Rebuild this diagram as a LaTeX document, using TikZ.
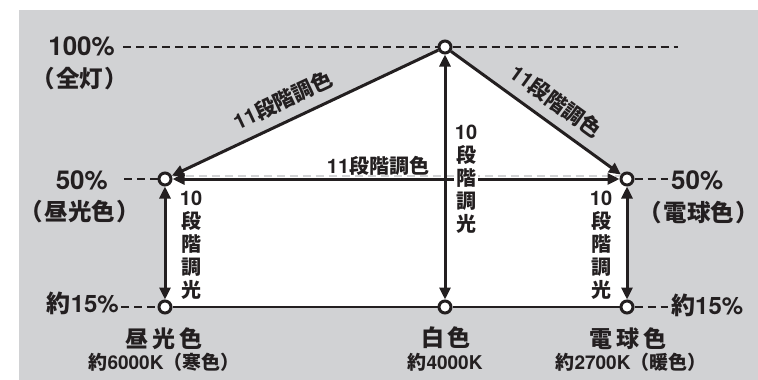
\documentclass[tikz,border=0pt]{standalone}
\usepackage{fontspec}
\setmainfont{TeX Gyre Heros}
\newfontfamily\jp{Noto Sans CJK JP}
\usetikzlibrary{arrows.meta}
\definecolor{bg}{RGB}{209,210,212}
\definecolor{ink}{RGB}{35,31,32}
\newcommand\fs[1]{\fontsize{#1}{#1}\selectfont\bfseries}
\newcommand\paren[1]{（\kern1.5pt #1\kern1.5pt ）}
\begin{document}
\begin{tikzpicture}[x=1pt,y=-1pt,
  Tr/.tip={Triangle[length=12pt,width=11pt]},
  pt/.style={circle,draw=ink,fill=white,line width=3pt,minimum size=12pt,inner sep=0pt},
  arr/.style={draw=ink,line width=3pt},
  dashline/.style={draw=ink,line width=2.7pt,dash pattern=on 8pt off 5pt},
  lbl/.style={text=ink,inner sep=0pt,font=\fs{#1}},
  vtext/.style={text=ink,inner sep=1pt,align=center,font={\fontsize{20}{22.9}\selectfont\bfseries}}
]
\useasboundingbox (0,0) rectangle (758,380);
\fill[white] (0,0) rectangle (758,380);
\fill[bg] (19,10) rectangle (758,380);
\fill[white] (165,179) -- (445,47) -- (627,179) -- (627,307) -- (165,307) -- cycle;

% points
\node[pt] (T) at (445,47) {};
\node[pt] (L) at (165,179) {};
\node[pt] (R) at (627,179) {};
\node[pt] (BL) at (165,307) {};
\node[pt] (BM) at (445,307) {};
\node[pt] (BR) at (627,307) {};

% free ends of dashed guides
\coordinate (d100a) at (123,47);
\coordinate (d100b) at (678,47);
\coordinate (d50a) at (124,179);
\coordinate (d50b) at (668,179);
\coordinate (d15a) at (121,307);
\coordinate (d15b) at (668,307);

\draw[dashline] (d100a) -- (T);
\draw[dashline] (T) -- (d100b);
\draw[dashline] (d50a) -- (L);
\draw[dashline] (R) -- (d50b);
\draw[dashline] (d15a) -- (BL);
\draw[dashline] (BR) -- (d15b);
\draw[draw=bg,line width=2pt,dash pattern=on 8pt off 5pt] ([yshift=3pt]L.east) -- ([yshift=3pt]R.west);

% connectors
\draw[arr,-Tr] (T) -- (L);
\draw[arr,-Tr] (T) -- (R);
\draw[arr,Tr-Tr] (L) -- (R);
\draw[arr,Tr-Tr] (BM) -- (T);
\draw[arr,Tr-Tr] (BL) -- (L);
\draw[arr,Tr-Tr] (BR) -- (R);
\draw[draw=ink,line width=2.7pt] (BL) -- (BM);
\draw[draw=ink,line width=2.7pt] (BM) -- (BR);

% step labels
\node[lbl=21,rotate=25.3] (cL) at (283,100) {11{\jp 段階調色}};
\node[lbl=21,rotate=-35.9] (cR) at (556,101) {11{\jp 段階調色}};
\node[lbl=20] (cH) at (378,166) {11{\jp 段階調色}};
\node[vtext,fill=white] (vM) at (466,179) {10\\{\jp 段}\\{\jp 階}\\{\jp 調}\\{\jp 光}};
\node[vtext] (vL) at (191,245) {10\\{\jp 段}\\{\jp 階}\\{\jp 調}\\{\jp 光}};
\node[vtext] (vR) at (601,245) {10\\{\jp 段}\\{\jp 階}\\{\jp 調}\\{\jp 光}};

% left level labels
\node[lbl=26,anchor=east] (p100) at (115,46) {100\%};
\node[lbl=23.5] (zen) at (80,79) {\jp \paren{全灯}};
\node[lbl=26,anchor=east] (p50L) at (108,180) {50\%};
\node[lbl=23.5] (chuL) at (80,212) {\jp \paren{昼光色}};
\node[lbl=24,anchor=east] (p15L) at (119,303) {{\jp 約}15\%};
% right level labels
\node[lbl=26,anchor=west] (p50R) at (671,180) {50\%};
\node[lbl=23.5] (denR) at (699,213) {\jp \paren{電球色}};
\node[lbl=24,anchor=west] (p15R) at (671,305) {{\jp 約}15\%};

% bottom labels
\node[lbl=23] (n1) at (164,339) {\jp 昼\kern4pt 光\kern4pt 色};
\node[lbl=19] (k1) at (164,362) {{\jp 約}6000K{\jp （寒色）}};
\node[lbl=23] (n2) at (446,338) {\jp 白\kern4pt 色};
\node[lbl=19] (k2) at (445,362) {{\jp 約}4000K};
\node[lbl=23] (n3) at (628,339) {\jp 電\kern4pt 球\kern4pt 色};
\node[lbl=19] (k3) at (631,362) {{\jp 約}2700K{\jp （暖色）}};
\end{tikzpicture}
\end{document}
